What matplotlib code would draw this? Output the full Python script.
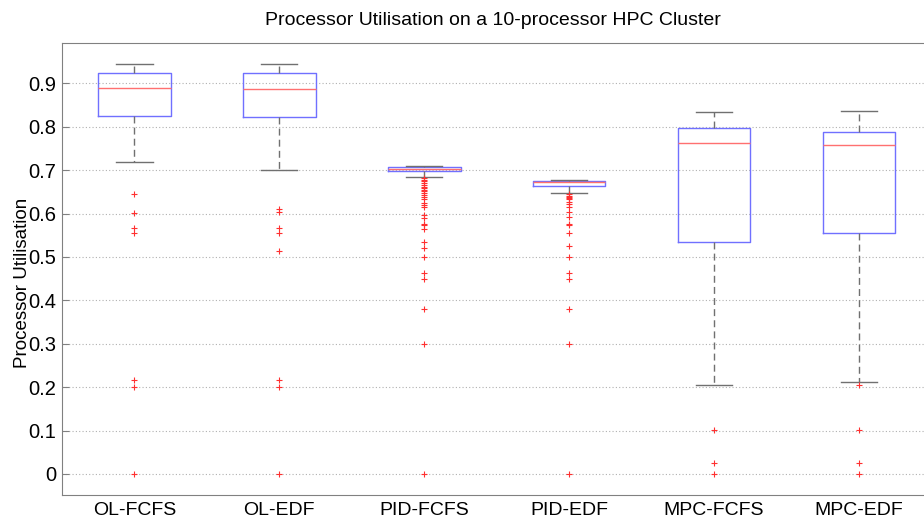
import matplotlib
matplotlib.use("Agg")
import matplotlib.pyplot as plt

plt.rcParams['font.family'] = ['Liberation Sans', 'DejaVu Sans']

categories = ["OL-FCFS", "OL-EDF", "PID-FCFS", "PID-EDF", "MPC-FCFS", "MPC-EDF"]
q1 = [0.824, 0.822, 0.697, 0.663, 0.535, 0.556]
med = [0.889, 0.887, 0.702, 0.672, 0.762, 0.757]
q3 = [0.925, 0.925, 0.707, 0.674, 0.797, 0.788]
whislo = [0.718, 0.700, 0.684, 0.647, 0.204, 0.211]
whishi = [0.945, 0.944, 0.709, 0.677, 0.833, 0.836]
outliers = [
    [0.644, 0.601, 0.566, 0.556, 0.2166, 0.200, 0.0],
    [0.611, 0.604, 0.566, 0.556, 0.514, 0.2166, 0.200, 0.0],
    [0.681, 0.677, 0.674, 0.670, 0.666, 0.662, 0.658, 0.654, 0.651, 0.647, 0.643,
     0.638, 0.633, 0.624, 0.620, 0.616, 0.596, 0.589, 0.576, 0.573, 0.564, 0.535,
     0.521, 0.501, 0.462, 0.449, 0.381, 0.300, 0.0],
    [0.644, 0.641, 0.639, 0.636, 0.633, 0.626, 0.621, 0.616, 0.604, 0.591, 0.576,
     0.573, 0.555, 0.525, 0.501, 0.462, 0.449, 0.381, 0.300, 0.0],
    [0.1007, 0.0246, 0.0],
    [0.204, 0.1007, 0.0246, 0.0],
]
yticks = [0, 0.1, 0.2, 0.3, 0.4, 0.5, 0.6, 0.7, 0.8, 0.9]

stats = []
for i, name in enumerate(categories):
    stats.append(dict(label=name, q1=q1[i], med=med[i], q3=q3[i],
                      whislo=whislo[i], whishi=whishi[i], fliers=outliers[i]))

fig = plt.figure(figsize=(9.24, 5.21), dpi=100)
ax = fig.add_axes([62/924, 26/521, (931.5-62)/924, (495-43)/521])

ax.bxp(stats, positions=range(1, 7), widths=0.5, showfliers=True,
       boxprops=dict(color='#7070ff', linewidth=1.0),
       medianprops=dict(color='#ff7070', linewidth=1.0),
       whiskerprops=dict(color='#707070', linewidth=1.0, linestyle=(0, (5, 3))),
       capprops=dict(color='#707070', linewidth=1.0),
       flierprops=dict(marker='+', markeredgecolor='#ff3030', markersize=4,
                       markeredgewidth=0.8, linestyle='none'))

ax.set_xlim(0.5, 6.5)
ax.set_ylim(-0.0485, 0.993)
ax.set_yticks(yticks)
ax.set_yticklabels([("%g" % t) for t in yticks])
ax.yaxis.grid(True, linestyle=(0, (1, 2)), color='#b0b0b0', linewidth=0.8)
ax.set_axisbelow(True)
ax.tick_params(axis='y', direction='in', length=5, color='#808080', labelsize=14.5, pad=4)
ax.tick_params(axis='x', length=0, labelsize=14, pad=5)
for s in ax.spines.values():
    s.set_color('#808080')
ax.set_ylabel("Processor Utilisation", fontsize=13.5)
ax.yaxis.set_label_coords(-0.036, 0.47)
fig.text(0.5336, 0.9616, "Processor Utilisation on a 10-processor HPC Cluster",
         ha='center', va='center', fontsize=14)

fig.savefig("out.png", dpi=100)
